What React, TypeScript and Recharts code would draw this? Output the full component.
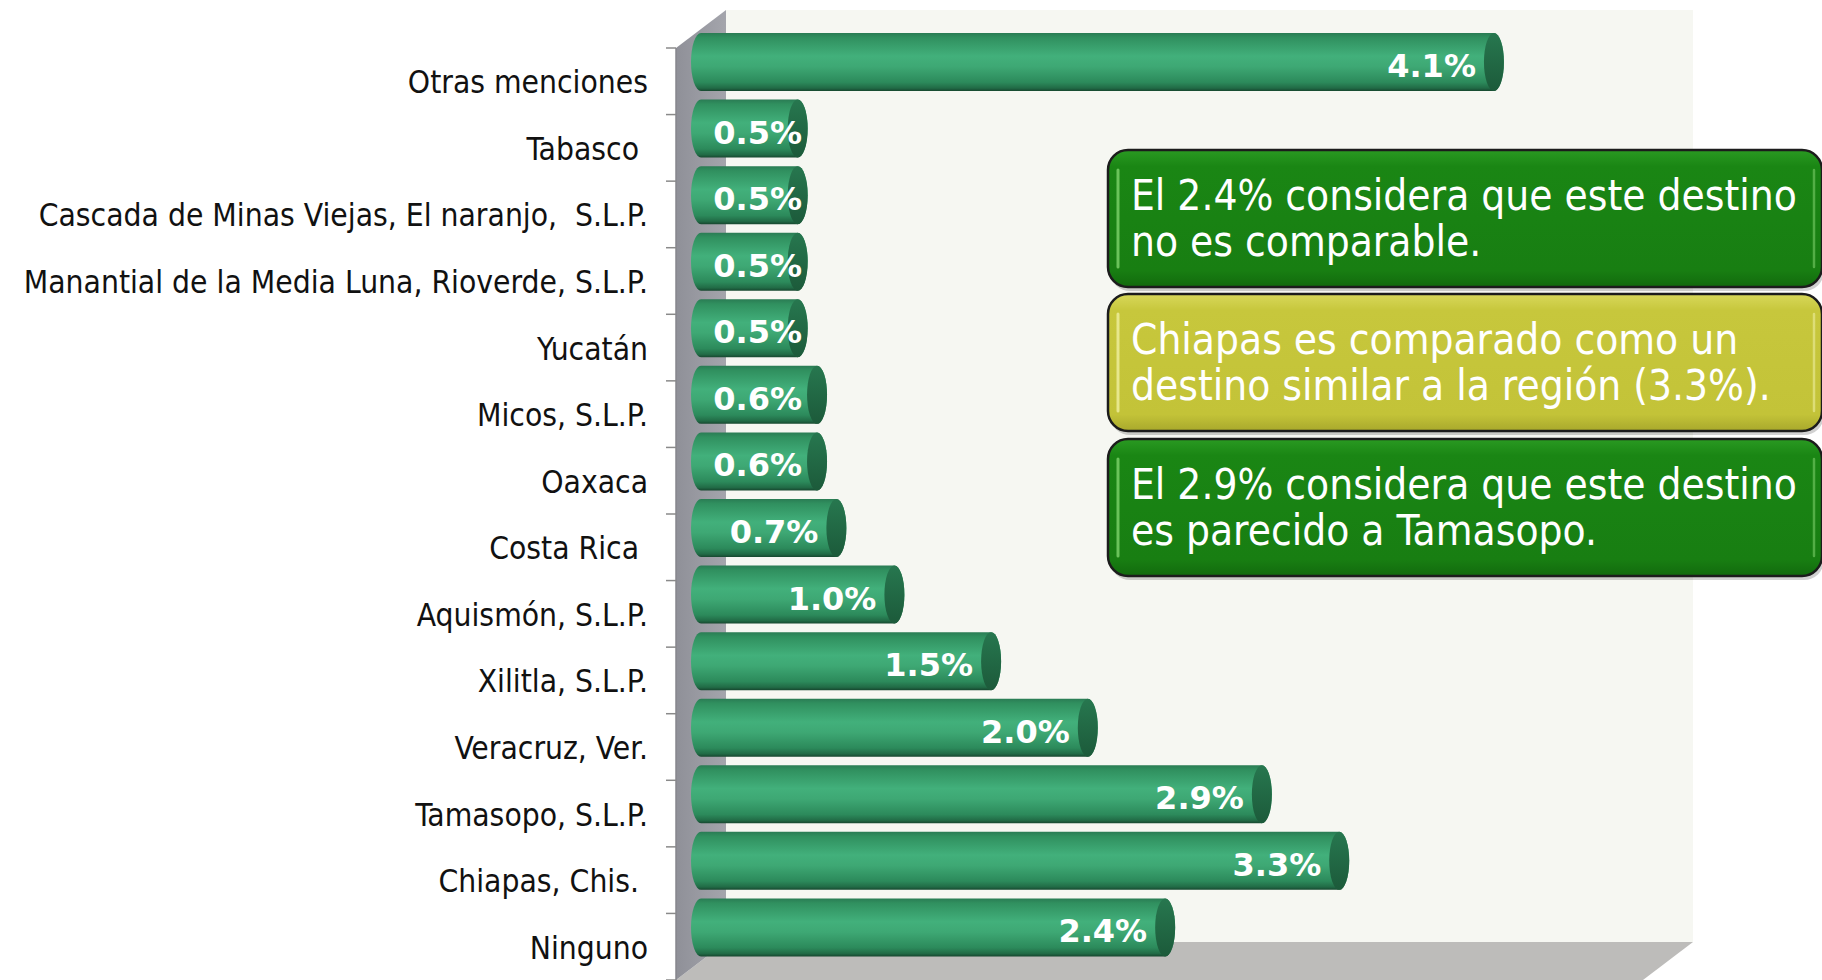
import { BarChart, Bar, XAxis, YAxis, LabelList } from 'recharts';

const categories = [
  'Otras menciones',
  'Tabasco ',
  'Cascada de Minas Viejas, El naranjo,  S.L.P.',
  'Manantial de la Media Luna, Rioverde, S.L.P.',
  'Yucatán',
  'Micos, S.L.P.',
  'Oaxaca',
  'Costa Rica ',
  'Aquismón, S.L.P.',
  'Xilitla, S.L.P.',
  'Veracruz, Ver.',
  'Tamasopo, S.L.P.',
  'Chiapas, Chis. ',
  'Ninguno',
];
const values = [4.1, 0.5, 0.5, 0.5, 0.5, 0.6, 0.6, 0.7, 1.0, 1.5, 2.0, 2.9, 3.3, 2.4];

const notes = [
  { lines: ['El 2.4% considera que este destino', 'no es comparable.'], color: 'green' },
  { lines: ['Chiapas es comparado como un', 'destino similar a la región (3.3%).'], color: 'olive' },
  { lines: ['El 2.9% considera que este destino', 'es parecido a Tamasopo.'], color: 'green' },
];

const data = categories.map((name, i) => ({ name, value: values[i] }));

// layout of the 3D frame
const W = 1822;
const H = 980;
const LEFT = 676;
const RIGHT = 1643;
const TOP = 48;
const BOTTOM = 980;
const DEPTH_X = 50;
const DEPTH_Y = -38;
const SHIFT_X = DEPTH_X / 2;
const SHIFT_Y = DEPTH_Y / 2;
const FONT = '"DejaVu Sans Condensed", "DejaVu Sans", sans-serif';
const LABEL_W = 89;

const Cylinder = (props: any) => {
  const { x, y, width, height } = props;
  if (!width || width <= 0) return null;
  const bx = x + SHIFT_X;
  const by = y + SHIFT_Y;
  const rx = 10;
  const ry = height / 2;
  const xe = bx + width;
  const d = `M${bx},${by} L${xe},${by} A${rx},${ry} 0 0 1 ${xe},${by + height} L${bx},${by + height} A${rx},${ry} 0 0 1 ${bx},${by} Z`;
  return (
    <g>
      <path d={d} fill="url(#cylBody)" />
      <ellipse cx={xe} cy={by + ry} rx={rx} ry={ry} fill="url(#cylCap)" />
    </g>
  );
};

const renderValue = (props: any) => {
  const { x, y, width, height, value } = props;
  const bx = x + SHIFT_X;
  const xe = bx + width;
  const end = Math.max(xe - 18, bx + 12 + LABEL_W);
  return (
    <text
      x={end}
      y={y + height / 2 + SHIFT_Y + 15}
      textAnchor="end"
      fill="#ffffff"
      fontFamily='"DejaVu Sans", sans-serif'
      fontWeight="bold"
      fontSize={32}
    >
      {Number(value).toFixed(1)}%
    </text>
  );
};

const renderTick = (props: any) => {
  const { x, y, payload } = props;
  return (
    <text
      x={x}
      y={y + 12}
      textAnchor="end"
      fill="#111"
      fontFamily={FONT}
      fontSize={31.5}
      style={{ whiteSpace: 'pre' }}
    >
      {payload.value}
    </text>
  );
};

const Frame = () => {
  const band = (BOTTOM - TOP) / categories.length;
  return (
    <svg width={W} height={H} style={{ position: 'absolute', left: 0, top: 0 }}>
      <defs>
        <linearGradient id="cylBody" x1="0" y1="0" x2="0" y2="1">
          <stop offset="0" stopColor="#2a7c54" />
          <stop offset="0.08" stopColor="#30905f" />
          <stop offset="0.4" stopColor="#42b07b" />
          <stop offset="0.58" stopColor="#3ea874" />
          <stop offset="0.85" stopColor="#2c8a5b" />
          <stop offset="0.95" stopColor="#216b46" />
          <stop offset="1" stopColor="#17472f" />
        </linearGradient>
        <linearGradient id="cylCap" x1="0" y1="0" x2="0" y2="1">
          <stop offset="0" stopColor="#27774f" />
          <stop offset="1" stopColor="#1c5a3a" />
        </linearGradient>
        <linearGradient id="sideWall" x1="0" y1="0" x2="1" y2="0">
          <stop offset="0" stopColor="#8f9098" />
          <stop offset="1" stopColor="#a4a5ac" />
        </linearGradient>
      </defs>
      <rect x={LEFT + DEPTH_X} y={TOP + DEPTH_Y} width={RIGHT - LEFT} height={BOTTOM - TOP} fill="#f6f7f2" />
      <polygon
        points={`${LEFT},${BOTTOM} ${LEFT + DEPTH_X},${BOTTOM + DEPTH_Y} ${RIGHT + DEPTH_X},${BOTTOM + DEPTH_Y} ${RIGHT},${BOTTOM}`}
        fill="#bdbcba"
      />
      <polygon
        points={`${LEFT},${TOP} ${LEFT + DEPTH_X},${TOP + DEPTH_Y} ${LEFT + DEPTH_X},${BOTTOM + DEPTH_Y} ${LEFT},${BOTTOM}`}
        fill="url(#sideWall)"
      />
      <line x1={LEFT} y1={TOP} x2={LEFT} y2={BOTTOM} stroke="#86868c" strokeWidth={1.5} />
      {Array.from({ length: categories.length + 1 }, (_, i) => (
        <line key={i} x1={LEFT - 10} x2={LEFT} y1={TOP + i * band} y2={TOP + i * band} stroke="#8a8a8a" strokeWidth={1.5} />
      ))}
    </svg>
  );
};

const Notes = () => {
  const boxX = 1108;
  const boxW = 714;
  const tops = [150, 294, 439];
  const boxH = 137;
  return (
    <svg width={W} height={H} style={{ position: 'absolute', left: 0, top: 0, pointerEvents: 'none' }}>
      <defs>
        <linearGradient id="noteGreen" x1="0" y1="0" x2="0" y2="1">
          <stop offset="0" stopColor="#2a9a22" />
          <stop offset="0.12" stopColor="#1a8614" />
          <stop offset="0.88" stopColor="#187e12" />
          <stop offset="1" stopColor="#126a0d" />
        </linearGradient>
        <linearGradient id="noteOlive" x1="0" y1="0" x2="0" y2="1">
          <stop offset="0" stopColor="#d8d85a" />
          <stop offset="0.12" stopColor="#c7c73c" />
          <stop offset="0.88" stopColor="#c3c338" />
          <stop offset="1" stopColor="#a8a82c" />
        </linearGradient>
      </defs>
      {notes.map((n, i) => {
        const y = tops[i];
        return (
          <g key={i}>
            <rect x={boxX + 2} y={y + 4} width={boxW} height={boxH} rx={20} fill="rgba(0,0,0,0.18)" />
            <rect
              x={boxX}
              y={y}
              width={boxW}
              height={boxH}
              rx={20}
              fill={n.color === 'green' ? 'url(#noteGreen)' : 'url(#noteOlive)'}
              stroke="#1c1c1c"
              strokeWidth={2.5}
            />
            <line
              x1={boxX + 10}
              x2={boxX + 10}
              y1={y + 20}
              y2={y + boxH - 20}
              stroke={n.color === 'green' ? '#7fd46c' : '#f0f0a0'}
              strokeWidth={3}
              strokeLinecap="round"
              opacity={0.8}
            />
            <line
              x1={boxX + boxW - 8}
              x2={boxX + boxW - 8}
              y1={y + 20}
              y2={y + boxH - 20}
              stroke={n.color === 'green' ? '#6cc25c' : '#e8e890'}
              strokeWidth={2.5}
              strokeLinecap="round"
              opacity={0.7}
            />
            {n.lines.map((t, j) => (
              <text
                key={j}
                x={boxX + 23}
                y={y + 60 + j * 46}
                fill="#ffffff"
                fontFamily={FONT}
                fontSize={42}
              >
                {t}
              </text>
            ))}
          </g>
        );
      })}
    </svg>
  );
};

export default function App() {
  return (
    <div style={{ position: 'absolute', left: 0, top: 0, width: W, height: H, overflow: 'hidden', background: '#fff' }}>
      <Frame />
      <div style={{ position: 'absolute', left: 0, top: 0 }}>
        <BarChart
          width={W}
          height={H}
          data={data}
          layout="vertical"
          margin={{ top: TOP, right: W - RIGHT, bottom: H - BOTTOM, left: 0 }}
          barSize={58}
        >
          <XAxis type="number" domain={[0, 5]} hide />
          <YAxis
            type="category"
            dataKey="name"
            width={LEFT}
            interval={0}
            tickLine={false}
            axisLine={false}
            tickSize={0}
            tickMargin={28}
            tick={renderTick}
          />
          <Bar dataKey="value" shape={Cylinder} isAnimationActive={false}>
            <LabelList dataKey="value" content={renderValue} />
          </Bar>
        </BarChart>
      </div>
      <Notes />
    </div>
  );
}
